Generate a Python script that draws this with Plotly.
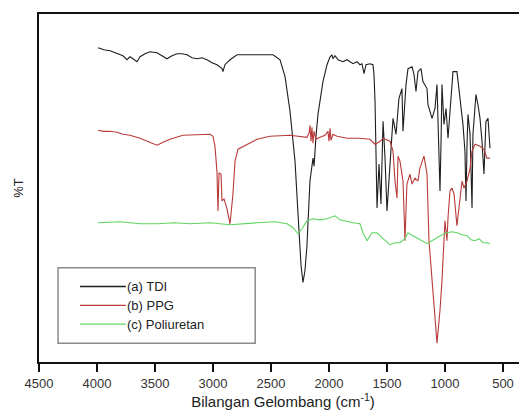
import plotly.graph_objects as go

# ---- data ----
series_names = ["(a) TDI", "(b) PPG", "(c) Poliuretan"]

tdi_wn = [3991, 3940, 3888, 3828, 3776, 3741, 3716, 3690, 3655, 3629, 3586, 3543, 3483, 3440, 3397, 3353,
          3310, 3267, 3224, 3181, 3138, 3095, 3052, 3009, 2966, 2922, 2914, 2897, 2853, 2793, 2681, 2595,
          2483, 2422, 2379, 2336, 2293, 2267, 2241, 2224, 2207, 2190, 2164, 2138, 2129, 2112, 2095, 2052,
          2017, 1991, 1974, 1966, 1948, 1922, 1879, 1845, 1819, 1793, 1759, 1733, 1716, 1698, 1681, 1647,
          1621, 1612, 1603, 1595, 1586, 1569, 1552, 1534, 1517, 1500, 1474, 1448, 1422, 1397, 1371, 1362,
          1336, 1319, 1284, 1267, 1250, 1233, 1207, 1190, 1155, 1147, 1112, 1086, 1069, 1052, 1043, 1034,
          1026, 1009, 991, 974, 948, 931, 897, 888, 871, 845, 828, 819, 810, 802, 784, 767, 759, 733, 716,
          698, 681, 664, 647, 629, 612]
tdi_t = [316, 314, 313, 310, 308, 304, 307, 305, 302, 307, 310, 312, 311, 308, 305, 308,
         310, 310, 309, 306, 305, 306, 304, 301, 299, 295, 292, 299, 304, 309, 309, 309,
         309, 304, 287, 252, 202, 149, 97, 80, 92, 117, 182, 205, 197, 227, 249, 282,
         299, 307, 309, 305, 308, 304, 302, 304, 302, 300, 302, 299, 300, 290, 299, 300,
         299, 289, 262, 212, 155, 199, 159, 242, 205, 152, 205, 245, 229, 265, 275, 232,
         279, 295, 297, 289, 272, 292, 295, 282, 275, 259, 245, 255, 279, 212, 172, 222,
         279, 239, 255, 225, 262, 292, 292, 282, 262, 239, 212, 162, 219, 249, 229, 155, 229, 269, 259,
         245, 222, 189, 242, 245, 215]

ppg_wn = [3991, 3940, 3888, 3828, 3776, 3716, 3629, 3543, 3483, 3431, 3371, 3259, 3112, 3026, 3000, 2983,
          2966, 2957, 2948, 2931, 2922, 2905, 2879, 2853, 2828, 2810, 2784, 2707, 2621, 2509, 2336, 2190,
          2172, 2164, 2155, 2147, 2138, 2129, 2112, 2078, 2034, 2009, 2000, 1991, 1983, 1966, 1931, 1845,
          1733, 1647, 1603, 1560, 1534, 1474, 1448, 1431, 1414, 1405, 1388, 1362, 1345, 1328, 1302, 1284,
          1259, 1233, 1216, 1181, 1155, 1138, 1103, 1069, 1043, 1026, 1000, 983, 974, 957, 940, 922, 897,
          871, 853, 836, 810, 784, 767, 741, 698, 664, 638, 612]
ppg_t = [233, 232, 232, 231, 229, 228, 225, 221, 218, 221, 224, 228, 229, 229, 227, 217,
         192, 152, 190, 189, 162, 164, 154, 139, 169, 202, 214, 219, 224, 227, 228, 226,
         230, 238, 222, 236, 220, 232, 224, 226, 228, 232, 222, 235, 223, 229, 227, 225,
         225, 224, 219, 222, 225, 222, 212, 182, 165, 207, 202, 182, 122, 179, 189, 179,
         185, 182, 195, 207, 189, 122, 65, 19, 52, 82, 142, 122, 145, 172, 175, 169, 137,
         165, 182, 175, 182, 195, 212, 219, 217, 214, 205, 205]

pu_wn = [3991, 3802, 3629, 3483, 3328, 3198, 3026, 2853, 2621, 2466, 2362, 2310, 2267, 2233, 2190, 2138,
         2078, 2017, 1948, 1905, 1793, 1733, 1707, 1672, 1629, 1586, 1534, 1474, 1431, 1388, 1345, 1319,
         1276, 1241, 1198, 1155, 1112, 1069, 1026, 983, 940, 897, 853, 810, 776, 741, 707, 672, 638, 612]
pu_t = [140, 141, 139, 139, 140, 139, 140, 138, 140, 141, 139, 135, 129, 134, 142, 144,
        143, 144, 147, 143, 140, 139, 130, 122, 130, 130, 124, 118, 120, 120, 124, 130,
        127, 125, 122, 119, 122, 125, 128, 130, 131, 130, 128, 127, 123, 122, 124, 120, 120, 119]

x_ticks = [4500, 4000, 3500, 3000, 2500, 2000, 1500, 1000, 500]

colors = ["#1e1e1e", "#b83a3a", "#5fd65f"]
FONT = "Liberation Sans, Arial, sans-serif"

fig = go.Figure()
for name, xs, ys, c in zip(series_names, [tdi_wn, ppg_wn, pu_wn], [tdi_t, ppg_t, pu_t], colors):
    fig.add_trace(go.Scatter(x=xs, y=ys, mode="lines", name=name,
                             line=dict(color=c, width=1.1), showlegend=False))

# legend drawn manually (box + sample lines + labels)
shapes = [dict(type="rect", xref="paper", yref="paper", x0=0.039, x1=0.443, y0=0.054, y1=0.271,
               line=dict(color="#8a8a8a", width=1.5), fillcolor="rgba(0,0,0,0)")]
annotations = []
rows_y = [0.217, 0.163, 0.109]
for name, c, yy in zip(series_names, colors, rows_y):
    shapes.append(dict(type="line", xref="paper", yref="paper", x0=0.084, x1=0.178, y0=yy, y1=yy,
                       line=dict(color=c, width=1.3)))
    annotations.append(dict(xref="paper", yref="paper", x=0.176, y=yy, text=name, showarrow=False,
                            xanchor="left", yanchor="middle", font=dict(family=FONT, size=13, color="#222")))

# page body has an 8px default margin: margins are set so the plot lands where the reference has it
fig.update_layout(
    width=527, height=416,
    margin=dict(l=31, r=8, t=4, b=62),
    paper_bgcolor="white", plot_bgcolor="white",
    font=dict(family=FONT, color="#222"),
    shapes=shapes, annotations=annotations,
    showlegend=False,
)
fig.update_xaxes(range=[4500, 293], tickvals=x_ticks, ticktext=[str(v) for v in x_ticks],
                 showgrid=False, zeroline=False, showline=True, linecolor="#111", linewidth=2,
                 mirror=True, ticks="outside", ticklen=8, tickwidth=1.5, tickcolor="#111",
                 tickfont=dict(family=FONT, size=13, color="#333"),
                 title=dict(text="Bilangan Gelombang (cm<sup>-1</sup>)", standoff=6,
                            font=dict(family=FONT, size=15, color="#222")))
fig.update_yaxes(range=[0, 350], showgrid=False, zeroline=False, showline=True, linecolor="#111",
                 linewidth=2, mirror=False, ticks="", showticklabels=False,
                 title=dict(text="%T", standoff=10, font=dict(family=FONT, size=13, color="#222")))

fig.write_html("out.html")
